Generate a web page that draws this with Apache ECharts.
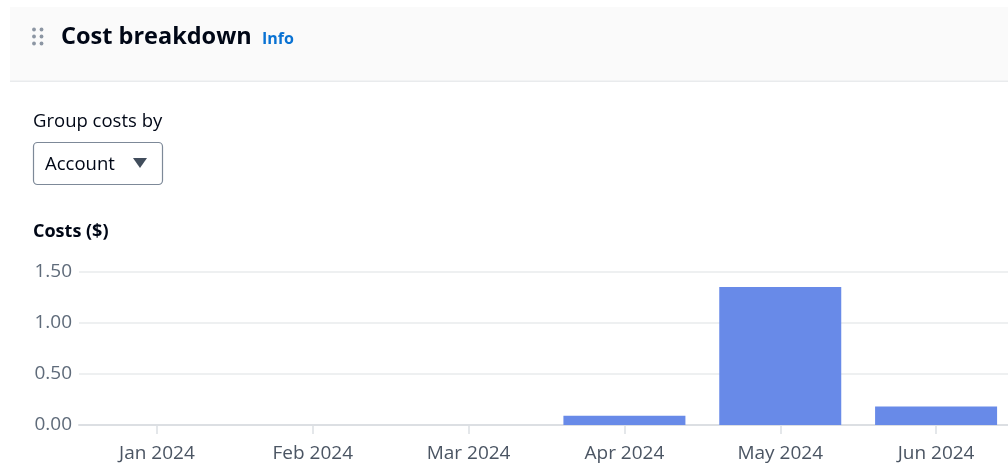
<!DOCTYPE html>
<html>
<head>
<meta charset="utf-8">
<script src="https://cdn.jsdelivr.net/npm/echarts@6/dist/echarts.min.js"></script>
<style>
  html, body { margin: 0; padding: 0; background: #ffffff; overflow: hidden; }
  #chart { width: 1014px; height: 463px; }
</style>
</head>
<body>
<div id="chart"></div>
<script>
const categories = ['Jan 2024', 'Feb 2024', 'Mar 2024', 'Apr 2024', 'May 2024', 'Jun 2024'];
const costs = [0, 0, 0, 0.09, 1.35, 0.18];
const yTicks = [0, 0.5, 1.0, 1.5];

const FONT = '"Open Sans", "Noto Sans", sans-serif';
const chart = echarts.init(document.getElementById('chart'), null, { renderer: 'canvas' });

chart.setOption({
  animation: false,
  textStyle: { fontFamily: FONT },
  grid: { left: 79, right: 0, top: 271.7, bottom: 37.5, containLabel: false },
  xAxis: {
    type: 'category',
    data: categories,
    axisLine: { show: true, lineStyle: { color: '#dcdfe3', width: 2 } },
    axisTick: { show: true, alignWithLabel: true, length: 9, lineStyle: { color: '#dcdfe3', width: 1.5 } },
    axisLabel: { color: '#4b5563', fontSize: 19, fontFamily: FONT, margin: 19 },
    splitLine: { show: false }
  },
  yAxis: {
    type: 'value',
    min: yTicks[0],
    max: yTicks[yTicks.length - 1],
    interval: 0.5,
    axisLine: { show: false },
    axisTick: { show: false },
    axisLabel: { color: '#5f6b7a', fontSize: 19, fontFamily: FONT, margin: 7,
      formatter: v => v.toFixed(2) },
    splitLine: { show: true, lineStyle: { color: '#e9ebed', width: 1.5 } }
  },
  series: [{
    type: 'bar',
    data: costs,
    barWidth: 122,
    itemStyle: { color: '#688ae8' }
  }],
  graphic: [
    { type: 'rect', shape: { x: 10, y: 7, width: 1010, height: 74 }, style: { fill: '#fafafa' }, z: -10 },
    { type: 'rect', shape: { x: 10, y: 80.5, width: 1010, height: 1.5 }, style: { fill: '#e9ebed' }, z: -9 },
    { type: 'circle', shape: { cx: 34, cy: 29.5, r: 1.9 }, style: { fill: '#8c96a3' } },
    { type: 'circle', shape: { cx: 41.5, cy: 29.5, r: 1.9 }, style: { fill: '#8c96a3' } },
    { type: 'circle', shape: { cx: 34, cy: 36.5, r: 1.9 }, style: { fill: '#8c96a3' } },
    { type: 'circle', shape: { cx: 41.5, cy: 36.5, r: 1.9 }, style: { fill: '#8c96a3' } },
    { type: 'circle', shape: { cx: 34, cy: 43.5, r: 1.9 }, style: { fill: '#8c96a3' } },
    { type: 'circle', shape: { cx: 41.5, cy: 43.5, r: 1.9 }, style: { fill: '#8c96a3' } },
    { type: 'text', x: 61, y: 37, style: { text: 'Cost breakdown', font: 'bold 23.5px ' + FONT, fill: '#000716', textVerticalAlign: 'middle' } },
    { type: 'text', x: 262, y: 39.5, style: { text: 'Info', font: 'bold 16px ' + FONT, fill: '#0972d3', textVerticalAlign: 'middle' } },
    { type: 'text', x: 33, y: 121.5, style: { text: 'Group costs by', font: '18.5px ' + FONT, fill: '#000716', textVerticalAlign: 'middle' } },
    { type: 'rect', shape: { x: 33.5, y: 142.5, width: 129, height: 42, r: 4 }, style: { fill: '#ffffff', stroke: '#7d8998', lineWidth: 1.2 } },
    { type: 'text', x: 45, y: 164.5, style: { text: 'Account', font: '18.5px ' + FONT, fill: '#000716', textVerticalAlign: 'middle' } },
    { type: 'polygon', shape: { points: [[133, 158], [147, 158], [140, 168]] }, style: { fill: '#414d5c' } },
    { type: 'text', x: 33, y: 231.5, style: { text: 'Costs ($)', font: 'bold 18px ' + FONT, fill: '#000716', textVerticalAlign: 'middle' } }
  ]
});
</script>
</body>
</html>
